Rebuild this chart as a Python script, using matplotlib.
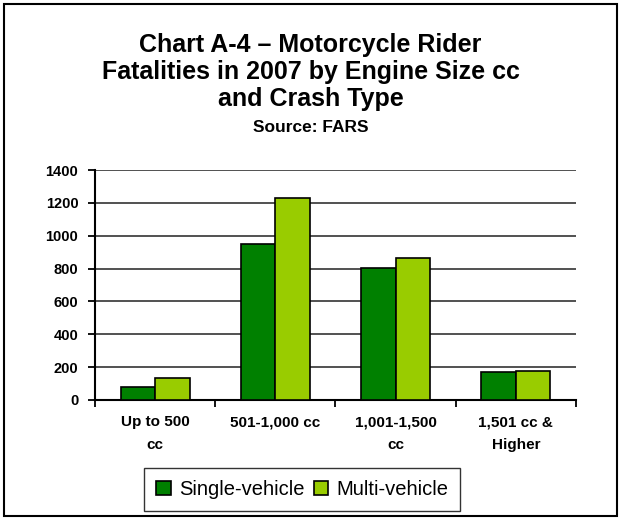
import matplotlib.pyplot as plt
import numpy as np
from matplotlib.patches import Rectangle

categories = ["Up to 500\ncc", "501-1,000 cc", "1,001-1,500\ncc", "1,501 cc &\nHigher"]
single_vehicle = [82, 948, 802, 168]
multi_vehicle = [132, 1228, 862, 178]
y_ticks = [0, 200, 400, 600, 800, 1000, 1200, 1400]

plt.rcParams['font.family'] = ['Liberation Sans', 'DejaVu Sans']

fig = plt.figure(figsize=(6.21, 5.2), dpi=100)
fig.patches.append(Rectangle((0.007, 0.008), 0.986, 0.984, transform=fig.transFigure,
                             fill=False, edgecolor='black', linewidth=1.5))

ax = fig.add_axes([0.153, 0.2308, 0.7745, 0.4422])
x = np.arange(len(categories))
w = 0.287
ax.bar(x - w / 2, single_vehicle, w, color='#008000', edgecolor='black', linewidth=1.2,
       label='Single-vehicle', zorder=3)
ax.bar(x + w / 2, multi_vehicle, w, color='#99CC00', edgecolor='black', linewidth=1.2,
       label='Multi-vehicle', zorder=3)

ax.set_xlim(-0.5, 3.5)
ax.set_ylim(0, 1400)
ax.set_yticks(y_ticks)
ax.set_yticklabels([str(v) for v in y_ticks], fontsize=10.5, fontweight='bold')
ax.yaxis.grid(True, color='#222222', linewidth=1.1, zorder=0)
ax.set_xticks(x)
ax.set_xticklabels(categories, fontsize=11, fontweight='bold', linespacing=1.8)
ax.tick_params(axis='x', length=0, pad=11)
ax.set_xticks(np.arange(-0.5, 4.0, 1.0), minor=True)
ax.tick_params(axis='x', which='minor', length=5, width=1.3, direction='out')
ax.tick_params(axis='y', length=5, width=1.3, direction='out', pad=7)
for side in ['top', 'right']:
    ax.spines[side].set_visible(False)
for side in ['left', 'bottom']:
    ax.spines[side].set_linewidth(1.5)

fig.text(0.5, 0.862, "Chart A-4 \u2013 Motorcycle Rider\nFatalities in 2007 by Engine Size cc\nand Crash Type",
         ha='center', va='center', fontsize=18, fontweight='bold', linespacing=1.17)
fig.text(0.5, 0.754, "Source: FARS", ha='center', va='center', fontsize=12.5, fontweight='bold')

leg = fig.legend(loc='center', bbox_to_anchor=(0.487, 0.059), ncol=2, fontsize=14.5,
                 frameon=True, fancybox=False, edgecolor='black', handlelength=0.7,
                 handleheight=0.7, handletextpad=0.4, columnspacing=0.5, borderpad=0.6)
leg.get_frame().set_linewidth(1.0)

fig.savefig('out.png', dpi=100)
